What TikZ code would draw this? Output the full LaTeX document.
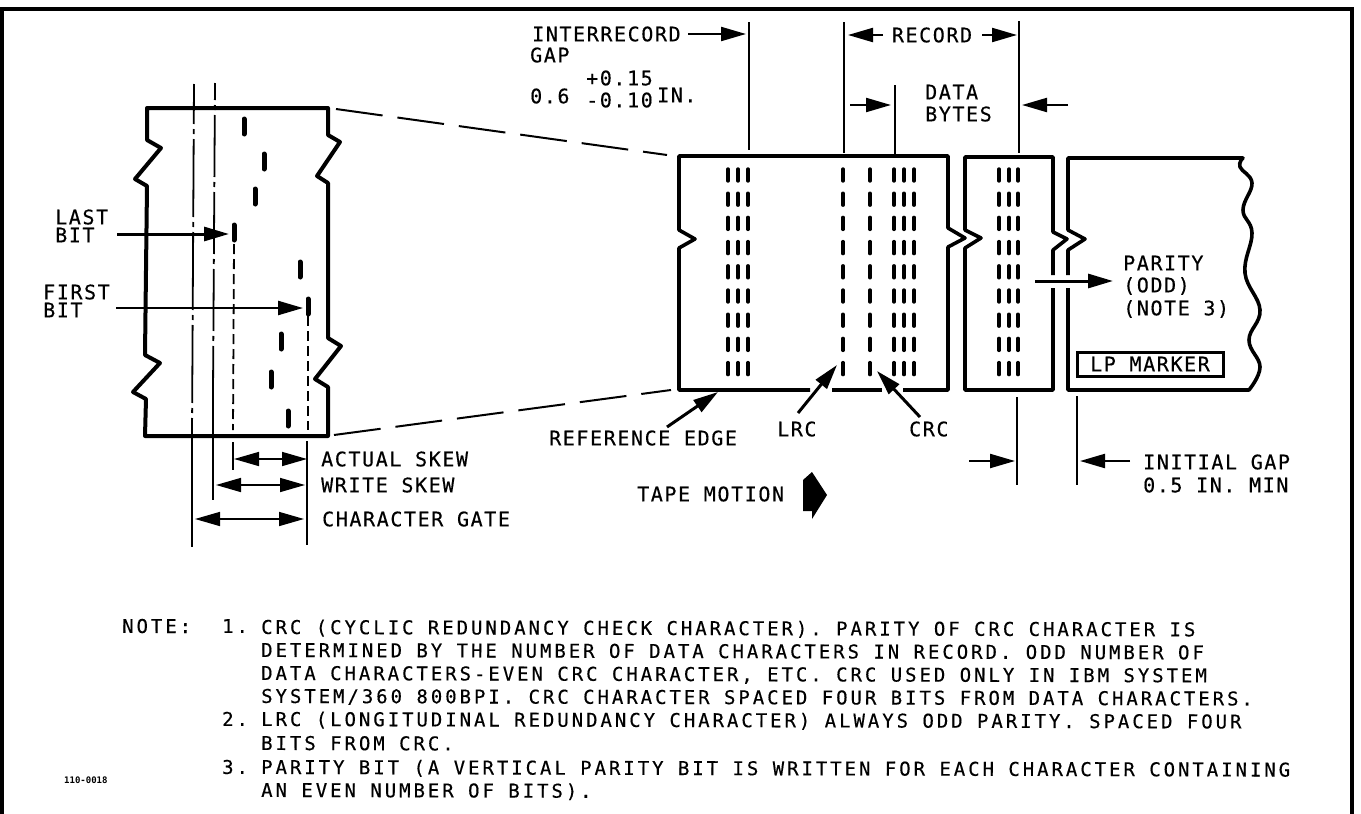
\documentclass[tikz,border=0pt]{standalone}
\usepackage{fontspec}
\usetikzlibrary{arrows.meta}
\newfontfamily\lblfont[LetterSpace=8, FakeBold=0.35]{DejaVu Sans Mono}
\newfontfamily\notefont[LetterSpace=15.5, FakeBold=0.35]{DejaVu Sans Mono}
\newfontfamily\tagfont{DejaVu Sans Mono Bold}
\tikzset{
  tape/.style={line width=3.6pt, line join=round},
  leader/.style={line width=1.8pt},
  bitmark/.style={line width=3.4pt, line cap=round},
  skewbit/.style={line width=5pt, line cap=round},
  lbl/.style={inner sep=0pt, anchor=west, text height=14.6pt, text depth=0pt, font=\fontsize{20}{20}\lblfont},
  notetxt/.style={inner sep=0pt, anchor=west, rotate=-0.15, text height=13.8pt, text depth=0pt, font=\fontsize{19}{19}\notefont},
  dimtip/.style={-{Triangle[length=25pt,width=14pt]}, line width=2.2pt},
  doubletip/.style={{Triangle[length=25pt,width=14pt]}-{Triangle[length=25pt,width=14pt]}, line width=1.6pt},
  heavytip/.style={-{Triangle[length=25pt,width=14pt]}, line width=3pt},
  zoomline/.style={line width=2pt, dash pattern=on 47pt off 15pt},
}
\begin{document}
\begin{tikzpicture}[x=1pt, y=-1pt]
  \useasboundingbox (0,0) rectangle (1361,814);
  \draw[line width=4pt] (2,814) -- (2,9) -- (1352,9) -- (1352,814);

  \draw[tape, line width=4pt] (147,108) -- (328,108) -- (328,135) -- (340,142) -- (317,176) -- (328,183)
    -- (328,338) -- (341,346) -- (315,379) -- (328,387) -- (328,436) -- (145,436) -- (146,399)
    -- (133,392) -- (160,363) -- (145,355) -- (147,186) -- (135,179) -- (161,148) -- (147,140) -- cycle;
  \foreach \x/\y in {244/119, 264/154, 255/189, 234/225, 300/262, 308/299, 281/334, 271/372, 288/411}
    \draw[skewbit] (\x,\y) -- ++(0,15);

  \draw[leader, dash pattern=on 78pt off 5pt on 5pt off 5pt, dash phase=38pt] (194,84) -- (192,436);
  \draw[leader, dash pattern=on 62pt off 5pt on 5pt off 5pt, dash phase=45pt] (215,83) -- (213,393);
  \draw[leader] (192,436) -- (192,547);
  \draw[leader] (213,393) -- (213,500);
  \draw[leader, dash pattern=on 10pt off 5pt] (234,244) -- (233,430);
  \draw[leader, dash pattern=on 10pt off 5pt] (308,316) -- (308,430);
  \draw[leader] (233,442) -- (233,470);
  \draw[leader] (307,441) -- (307,545);

  \node[lbl] (lastlbl) at (55,217) {LAST};
  \node[lbl] (lastbit) at (55,235) {BIT};
  \node[lbl] (firstlbl) at (43,292) {FIRST};
  \node[lbl] (firstbit) at (43,310) {BIT};
  \coordinate (laststart) at (117,234);
  \coordinate (lasttip) at (229,234);
  \coordinate (firststart) at (116,308);
  \coordinate (firsttip) at (303,308);
  \draw[heavytip] (laststart) -- (lasttip);
  \draw[heavytip, line width=2.4pt] (firststart) -- (firsttip);

  \node[lbl] (actual) at (321,459) {ACTUAL SKEW};
  \node[lbl] (writeskew) at (321,485) {WRITE SKEW};
  \node[lbl] (chargate) at (322,519) {CHARACTER GATE};
  \draw[doubletip] (234,459) -- (307,459);
  \draw[doubletip] (216,485) -- (305,485);
  \draw[doubletip] (195,519) -- (304,519);

  \draw[zoomline] (336,109) -- (667,155);
  \draw[zoomline] (334,435) -- (671,390);

  \draw[tape] (810,390) -- (679,390) -- (679,248) -- (695,239) -- (679,230) -- (679,156)
    -- (948,156) -- (948,228) -- (965,238) -- (948,247) -- (948,390) -- (903,390);
  \draw[tape] (832,390) -- (882,390);
  \draw[tape] (1053,275) -- (1053,250) -- (1067,239) -- (1053,232) -- (1053,157) -- (965,157)
    -- (965,230) -- (981,238) -- (965,248) -- (965,390) -- (1053,390) -- (1053,288);
  \draw[tape] (1068,275) -- (1068,250) -- (1085,239) -- (1068,230) -- (1068,158) -- (1243,158)
    -- plot[smooth, tension=0.7] coordinates {(1243,158) (1240,167) (1252,183) (1243,210) (1252,233)
    (1245,273) (1260,310) (1249,340) (1260,367) (1249,390)} -- (1068,390) -- (1068,288);
  \foreach \x in {728, 738, 748, 843, 870, 894, 904, 914, 999, 1009, 1018}
    \foreach \row in {0,...,8}
      \draw[bitmark] (\x,{169+\row*24.2}) -- ++(0,12);

  \draw[leader] (749,22) -- (749,150);
  \draw[leader] (844,22) -- (844,153);
  \draw[leader] (895,85) -- (895,154);
  \draw[leader] (1019,21) -- (1019,153);
  \draw[leader] (1017,397) -- (1017,485);
  \draw[leader] (1077,396) -- (1077,485);

  \node[lbl] (interrec) at (532,34) {INTERRECORD};
  \node[lbl] (gaplbl) at (530,55) {GAP};
  \node[lbl] (gapval) at (530,96) {0.6};
  \node[lbl] (gapplus) at (586,78) {+0.15};
  \node[lbl] (gapminus) at (586,100) {-0.10};
  \node[lbl] (gapin) at (657,95) {IN.};
  \node[lbl, anchor=center] (recordlbl) at (932,35) {RECORD};
  \node[lbl] (datalbl) at (925,92) {DATA};
  \node[lbl] (byteslbl) at (925,114) {BYTES};
  \coordinate (interstart) at (688,34);
  \coordinate (recleft) at (883,35);
  \coordinate (recright) at (982,35);
  \draw[dimtip] (interstart) -- (746,34);
  \draw[dimtip] (recleft) -- (848,35);
  \draw[dimtip] (recright) -- (1017,35);
  \draw[dimtip] (850,105) -- (891,105);
  \draw[dimtip] (1068,105) -- (1022,105);

  \node[lbl] (refedge) at (549,438) {REFERENCE EDGE};
  \node[lbl] (lrclbl) at (777,429) {LRC};
  \node[lbl] (crclbl) at (909,429) {CRC};
  \node[lbl] (tapemotion) at (637,494) {TAPE MOTION};
  \coordinate (reftip) at (718,392);
  \coordinate (lrctip) at (837,365);
  \coordinate (crctip) at (877,371);
  \draw[heavytip] (667,427) -- (reftip);
  \draw[heavytip] (798,413) -- (lrctip);
  \draw[heavytip] (920,417) -- (crctip);
  \fill (803,480) -- (812,472) -- (827,495) -- (812,519) -- (812,511) -- (803,511) -- cycle;

  \node[lbl] (paritylbl) at (1123,263) {PARITY};
  \node[lbl] (oddlbl) at (1123,285) {(ODD)};
  \node[lbl] (notethree) at (1123,308) {(NOTE 3)};
  \draw[heavytip] (1035,281) -- (1113,281);
  \node[lbl, anchor=center, draw, line width=3pt, minimum width=146pt, minimum height=24pt] (lpmarker) at (1150,364) {LP MARKER};

  \node[lbl] (initgap) at (1143,462) {INITIAL GAP};
  \node[lbl] (initmin) at (1143,485) {0.5 IN. MIN};
  \coordinate (initstart) at (1130,461);
  \draw[dimtip] (969,461) -- (1015,461);
  \draw[dimtip] (initstart) -- (1080,461);

  \node[notetxt] (notelbl) at (122,626) {NOTE:};
  \node[notetxt] (noteone) at (222,626) {1.};
  \node[notetxt] (noteonea) at (261,627) {CRC (CYCLIC REDUNDANCY CHECK CHARACTER). PARITY OF CRC CHARACTER IS};
  \node[notetxt] (noteoneb) at (261,650) {DETERMINED BY THE NUMBER OF DATA CHARACTERS IN RECORD. ODD NUMBER OF};
  \node[notetxt] (noteonec) at (261,673) {DATA CHARACTERS-EVEN CRC CHARACTER, ETC. CRC USED ONLY IN IBM SYSTEM};
  \node[notetxt] (noteoned) at (261,696) {SYSTEM/360 800BPI. CRC CHARACTER SPACED FOUR BITS FROM DATA CHARACTERS.};
  \node[notetxt] (notetwo) at (222,719) {2.};
  \node[notetxt] (notetwoa) at (261,719) {LRC (LONGITUDINAL REDUNDANCY CHARACTER) ALWAYS ODD PARITY. SPACED FOUR};
  \node[notetxt] (notetwob) at (261,743) {BITS FROM CRC.};
  \node[notetxt] (notethr) at (222,767) {3.};
  \node[notetxt] (notethra) at (261,767) {PARITY BIT (A VERTICAL PARITY BIT IS WRITTEN FOR EACH CHARACTER CONTAINING};
  \node[notetxt] (notethrb) at (261,790) {AN EVEN NUMBER OF BITS).};
  \node[inner sep=0pt, anchor=west, font=\fontsize{9}{9}\tagfont] (partno) at (64,780) {110-0018};
\end{tikzpicture}
\end{document}
